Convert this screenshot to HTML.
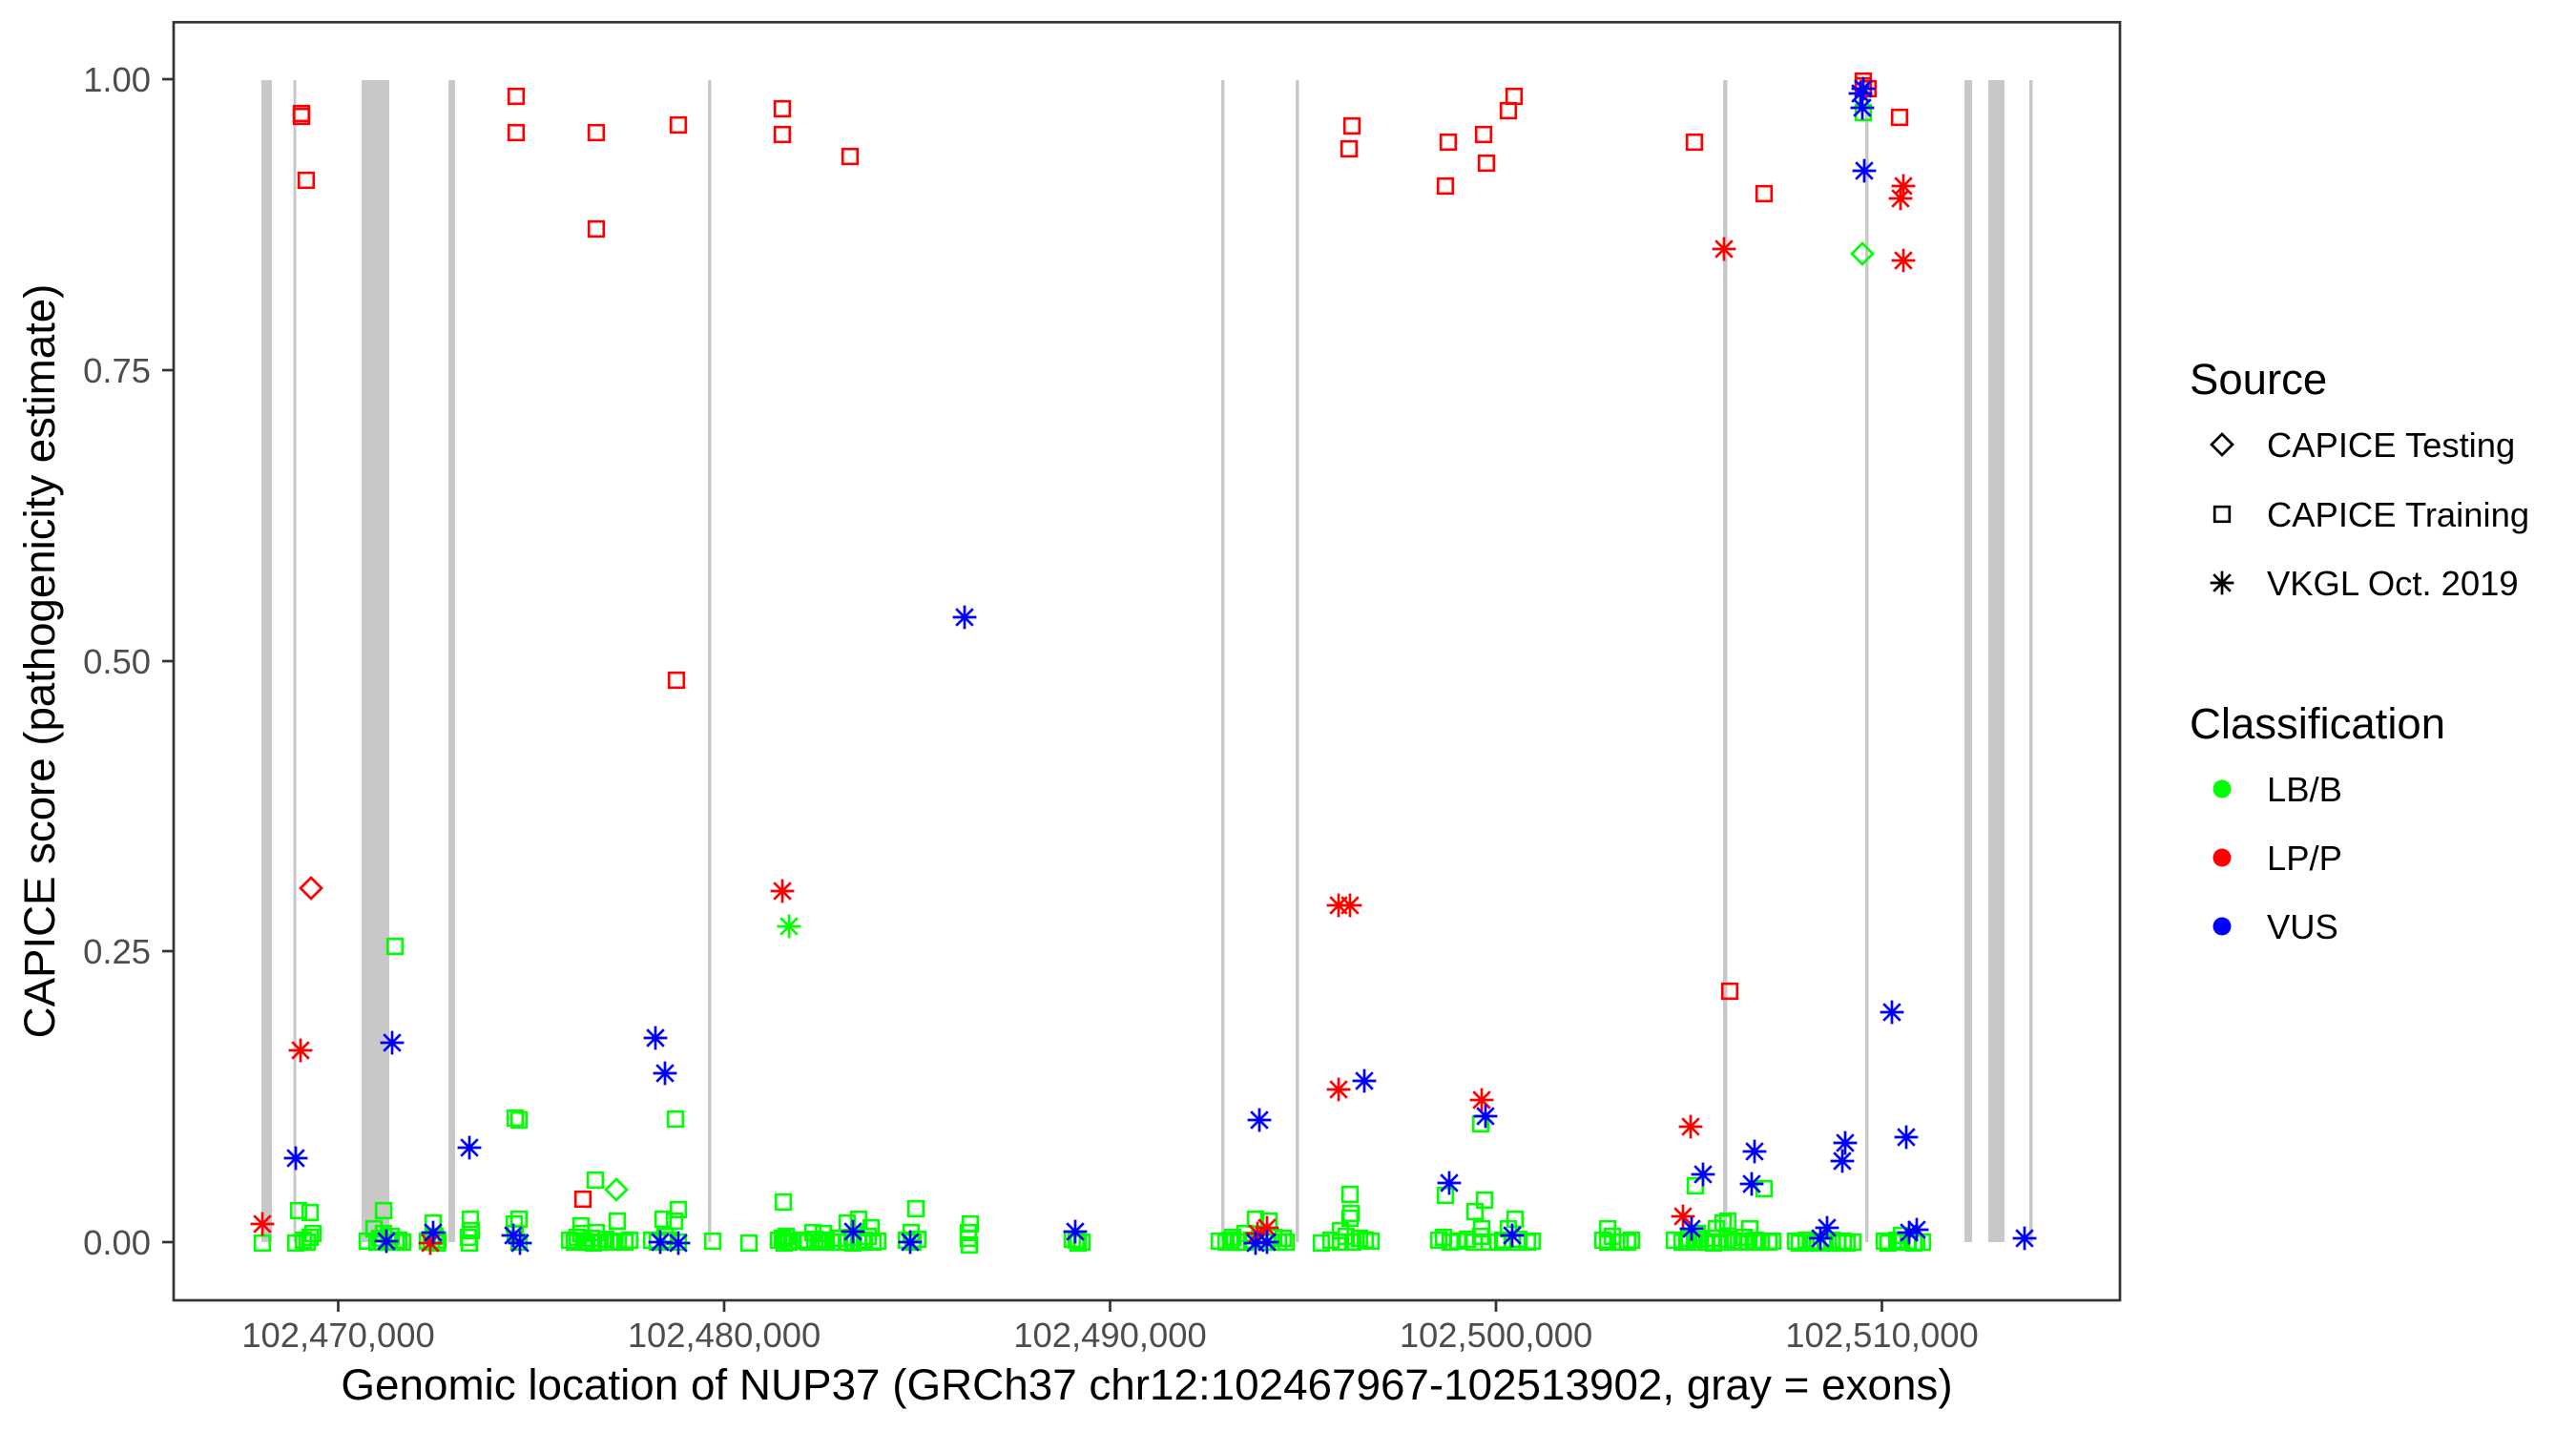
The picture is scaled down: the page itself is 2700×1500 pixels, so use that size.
<!DOCTYPE html>
<html><head><meta charset="utf-8"><style>
html,body{margin:0;padding:0;background:#fff;}
svg{display:block;font-family:"Liberation Sans",Arial,sans-serif;}
</style></head><body>
<svg width="2700" height="1500" viewBox="0 0 2700 1500" xmlns="http://www.w3.org/2000/svg">
<defs>
<path id="s" d="M-7.8,-7.8h15.6v15.6h-15.6z" fill="none"/>
<path id="d" d="M0,-11L11,0L0,11L-11,0z" fill="none"/>
<path id="a" d="M-12.4,0H12.4M0,-12.4V12.4M-8.8,-8.8L8.8,8.8M-8.8,8.8L8.8,-8.8" fill="none"/>
</defs>
<rect width="2700" height="1500" fill="#fff"/>
<!-- exons -->
<g fill="#C8C8C8">
<rect x="274" y="84" width="11" height="1218"/>
<rect x="307.5" y="84" width="3" height="1218"/>
<rect x="379" y="84" width="29" height="1218"/>
<rect x="470" y="84" width="7" height="1218"/>
<rect x="742" y="84" width="3.5" height="1218"/>
<rect x="1280" y="84" width="3.5" height="1218"/>
<rect x="1358" y="84" width="3.5" height="1218"/>
<rect x="1806" y="84" width="4.5" height="1218"/>
<rect x="1955" y="84" width="3.5" height="1218"/>
<rect x="2059" y="84" width="8" height="1218"/>
<rect x="2084" y="84" width="17" height="1218"/>
<rect x="2127" y="84" width="3.5" height="1218"/>
</g>
<!-- green squares -->
<g stroke="#00FF00" stroke-width="2.7">
<use href="#s" x="414" y="992"/><use href="#s" x="540" y="1172"/><use href="#s" x="544" y="1174"/><use href="#s" x="708" y="1173"/><use href="#s" x="624" y="1237"/>
<use href="#s" x="275" y="1303"/><use href="#s" x="313" y="1269"/><use href="#s" x="325" y="1271"/><use href="#s" x="310" y="1303"/><use href="#s" x="322" y="1302"/><use href="#s" x="328" y="1293"/><use href="#s" x="325" y="1297"/><use href="#s" x="318" y="1300"/>
<use href="#s" x="402" y="1269"/><use href="#s" x="392" y="1288"/><use href="#s" x="395" y="1302"/><use href="#s" x="415" y="1302"/><use href="#s" x="422" y="1302"/><use href="#s" x="402" y="1293"/><use href="#s" x="408" y="1302"/>
<use href="#s" x="385" y="1301"/><use href="#s" x="398" y="1298"/><use href="#s" x="410" y="1296"/><use href="#s" x="418" y="1300"/>
<use href="#s" x="454" y="1282"/><use href="#s" x="452" y="1302"/><use href="#s" x="459" y="1300"/><use href="#s" x="456" y="1296"/><use href="#s" x="448" y="1301"/><use href="#s" x="458" y="1303"/>
<use href="#s" x="493" y="1278"/><use href="#s" x="494" y="1290"/><use href="#s" x="492" y="1303"/><use href="#s" x="491" y="1297"/>
<use href="#s" x="539" y="1283"/><use href="#s" x="544" y="1278"/><use href="#s" x="544" y="1302"/><use href="#s" x="540" y="1293"/>
<use href="#s" x="609" y="1285"/><use href="#s" x="625" y="1292"/><use href="#s" x="647" y="1280"/><use href="#s" x="602" y="1302"/><use href="#s" x="615" y="1302"/><use href="#s" x="629" y="1302"/><use href="#s" x="642" y="1302"/><use href="#s" x="655" y="1302"/><use href="#s" x="609" y="1293"/><use href="#s" x="620" y="1298"/>
<use href="#s" x="597" y="1300"/><use href="#s" x="605" y="1297"/><use href="#s" x="612" y="1301"/><use href="#s" x="622" y="1303"/><use href="#s" x="635" y="1299"/><use href="#s" x="648" y="1301"/><use href="#s" x="660" y="1300"/>
<use href="#s" x="695" y="1278"/><use href="#s" x="689" y="1302"/><use href="#s" x="711" y="1268"/><use href="#s" x="707" y="1280"/><use href="#s" x="711" y="1302"/><use href="#s" x="700" y="1300"/><use href="#s" x="683" y="1300"/><use href="#s" x="697" y="1296"/>
<use href="#s" x="747" y="1301"/><use href="#s" x="785" y="1303"/><use href="#s" x="821" y="1260"/><use href="#s" x="820" y="1298"/><use href="#s" x="827" y="1302"/><use href="#s" x="822" y="1303"/><use href="#s" x="816" y="1300"/><use href="#s" x="824" y="1296"/><use href="#s" x="830" y="1301"/>
<use href="#s" x="852" y="1292"/><use href="#s" x="863" y="1293"/><use href="#s" x="847" y="1302"/><use href="#s" x="860" y="1302"/><use href="#s" x="873" y="1302"/><use href="#s" x="888" y="1282"/><use href="#s" x="900" y="1278"/><use href="#s" x="913" y="1287"/><use href="#s" x="887" y="1302"/><use href="#s" x="900" y="1302"/><use href="#s" x="915" y="1302"/><use href="#s" x="880" y="1302"/><use href="#s" x="893" y="1297"/><use href="#s" x="910" y="1296"/>
<use href="#s" x="842" y="1300"/><use href="#s" x="854" y="1299"/><use href="#s" x="866" y="1300"/><use href="#s" x="878" y="1298"/><use href="#s" x="894" y="1303"/><use href="#s" x="906" y="1300"/><use href="#s" x="920" y="1301"/>
<use href="#s" x="960" y="1267"/><use href="#s" x="955" y="1292"/><use href="#s" x="957" y="1302"/><use href="#s" x="950" y="1300"/><use href="#s" x="962" y="1299"/>
<use href="#s" x="1017" y="1283"/><use href="#s" x="1015" y="1292"/><use href="#s" x="1015" y="1298"/><use href="#s" x="1016" y="1305"/>
<use href="#s" x="1130" y="1303"/><use href="#s" x="1128" y="1300"/><use href="#s" x="1124" y="1299"/><use href="#s" x="1134" y="1302"/>
<use href="#s" x="1285" y="1302"/><use href="#s" x="1305" y="1293"/><use href="#s" x="1316" y="1278"/><use href="#s" x="1330" y="1280"/><use href="#s" x="1345" y="1298"/><use href="#s" x="1328" y="1302"/><use href="#s" x="1298" y="1302"/><use href="#s" x="1290" y="1300"/><use href="#s" x="1340" y="1302"/><use href="#s" x="1312" y="1300"/>
<use href="#s" x="1278" y="1301"/><use href="#s" x="1292" y="1297"/><use href="#s" x="1305" y="1302"/><use href="#s" x="1320" y="1299"/><use href="#s" x="1335" y="1297"/><use href="#s" x="1348" y="1302"/>
<use href="#s" x="1415" y="1252"/><use href="#s" x="1416" y="1272"/><use href="#s" x="1415" y="1277"/><use href="#s" x="1405" y="1290"/><use href="#s" x="1385" y="1303"/><use href="#s" x="1431" y="1300"/><use href="#s" x="1405" y="1302"/><use href="#s" x="1418" y="1302"/><use href="#s" x="1411" y="1296"/>
<use href="#s" x="1395" y="1300"/><use href="#s" x="1425" y="1298"/><use href="#s" x="1437" y="1301"/>
<use href="#s" x="1552" y="1178"/><use href="#s" x="1515" y="1253"/><use href="#s" x="1513" y="1297"/><use href="#s" x="1520" y="1302"/><use href="#s" x="1546" y="1270"/><use href="#s" x="1556" y="1258"/><use href="#s" x="1553" y="1288"/><use href="#s" x="1545" y="1302"/><use href="#s" x="1561" y="1302"/><use href="#s" x="1588" y="1278"/><use href="#s" x="1585" y="1302"/><use href="#s" x="1601" y="1302"/><use href="#s" x="1581" y="1288"/><use href="#s" x="1570" y="1302"/><use href="#s" x="1552" y="1296"/>
<use href="#s" x="1508" y="1300"/><use href="#s" x="1528" y="1301"/><use href="#s" x="1538" y="1299"/><use href="#s" x="1575" y="1300"/><use href="#s" x="1592" y="1299"/><use href="#s" x="1606" y="1301"/>
<use href="#s" x="1685" y="1288"/><use href="#s" x="1685" y="1302"/><use href="#s" x="1698" y="1302"/><use href="#s" x="1706" y="1302"/><use href="#s" x="1690" y="1296"/><use href="#s" x="1680" y="1300"/><use href="#s" x="1710" y="1300"/>
<use href="#s" x="1777" y="1243"/><use href="#s" x="1849" y="1246"/><use href="#s" x="1763" y="1302"/><use href="#s" x="1776" y="1302"/><use href="#s" x="1789" y="1302"/><use href="#s" x="1803" y="1302"/><use href="#s" x="1816" y="1302"/><use href="#s" x="1806" y="1282"/><use href="#s" x="1811" y="1280"/><use href="#s" x="1799" y="1288"/><use href="#s" x="1779" y="1293"/><use href="#s" x="1770" y="1298"/><use href="#s" x="1795" y="1298"/>
<use href="#s" x="1755" y="1300"/><use href="#s" x="1768" y="1301"/><use href="#s" x="1782" y="1299"/><use href="#s" x="1796" y="1303"/><use href="#s" x="1810" y="1299"/><use href="#s" x="1822" y="1301"/><use href="#s" x="1828" y="1297"/><use href="#s" x="1840" y="1300"/><use href="#s" x="1858" y="1301"/>
<use href="#s" x="1834" y="1288"/><use href="#s" x="1833" y="1302"/><use href="#s" x="1846" y="1302"/><use href="#s" x="1854" y="1302"/>
<use href="#s" x="1886" y="1303"/><use href="#s" x="1899" y="1303"/><use href="#s" x="1913" y="1303"/><use href="#s" x="1926" y="1303"/><use href="#s" x="1936" y="1303"/>
<use href="#s" x="1882" y="1301"/><use href="#s" x="1893" y="1300"/><use href="#s" x="1905" y="1301"/><use href="#s" x="1920" y="1300"/><use href="#s" x="1932" y="1301"/><use href="#s" x="1942" y="1302"/>
<use href="#s" x="1979" y="1303"/><use href="#s" x="1993" y="1302"/><use href="#s" x="2006" y="1303"/><use href="#s" x="2009" y="1302"/><use href="#s" x="1993" y="1295"/>
<use href="#s" x="1975" y="1301"/><use href="#s" x="1988" y="1300"/><use href="#s" x="2000" y="1301"/><use href="#s" x="2015" y="1302"/>
<use href="#s" x="1953" y="118"/>
<use href="#d" x="646" y="1247"/><use href="#d" x="1952" y="266"/>
<use href="#a" x="827" y="971"/>
</g>
<!-- red -->
<g stroke="#FF0000" stroke-width="2.7">
<use href="#s" x="316" y="122"/><use href="#s" x="316" y="119"/><use href="#s" x="321" y="189"/><use href="#s" x="541" y="101"/><use href="#s" x="541" y="139"/><use href="#s" x="625" y="139"/><use href="#s" x="625" y="240"/><use href="#s" x="711" y="131"/><use href="#s" x="820" y="114"/><use href="#s" x="820" y="141"/><use href="#s" x="891" y="164"/><use href="#s" x="709" y="713"/><use href="#s" x="611" y="1257"/>
<use href="#s" x="1417" y="132"/><use href="#s" x="1414" y="156"/><use href="#s" x="1518" y="149"/><use href="#s" x="1515" y="195"/><use href="#s" x="1555" y="141"/><use href="#s" x="1558" y="171"/><use href="#s" x="1587" y="101"/><use href="#s" x="1581" y="116"/><use href="#s" x="1776" y="149"/><use href="#s" x="1849" y="203"/><use href="#s" x="1813" y="1039"/><use href="#s" x="1953" y="85"/><use href="#s" x="1958" y="93"/><use href="#s" x="1953" y="90"/><use href="#s" x="1991" y="123"/>
<use href="#d" x="326" y="931"/>
<use href="#a" x="315" y="1101"/><use href="#a" x="275" y="1283"/><use href="#a" x="451" y="1303"/><use href="#a" x="820" y="934"/><use href="#a" x="1403" y="949"/><use href="#a" x="1415" y="949"/><use href="#a" x="1403" y="1142"/><use href="#a" x="1553" y="1153"/><use href="#a" x="1318" y="1293"/><use href="#a" x="1328" y="1287"/><use href="#a" x="1807" y="261"/><use href="#a" x="1995" y="195"/><use href="#a" x="1992" y="208"/><use href="#a" x="1995" y="273"/><use href="#a" x="1772" y="1181"/><use href="#a" x="1764" y="1275"/>
</g>
<!-- blue -->
<g stroke="#0000FF" stroke-width="2.7">
<use href="#a" x="411" y="1093"/><use href="#a" x="310" y="1214"/><use href="#a" x="492" y="1203"/><use href="#a" x="687" y="1088"/><use href="#a" x="697" y="1125"/><use href="#a" x="405" y="1301"/><use href="#a" x="454" y="1292"/><use href="#a" x="538" y="1295"/><use href="#a" x="545" y="1303"/><use href="#a" x="692" y="1302"/><use href="#a" x="711" y="1303"/>
<use href="#a" x="1011" y="647"/><use href="#a" x="894" y="1291"/><use href="#a" x="954" y="1302"/><use href="#a" x="1127" y="1291"/>
<use href="#a" x="1320" y="1174"/><use href="#a" x="1430" y="1133"/><use href="#a" x="1557" y="1170"/><use href="#a" x="1519" y="1240"/><use href="#a" x="1316" y="1303"/><use href="#a" x="1328" y="1302"/><use href="#a" x="1585" y="1295"/>
<use href="#a" x="1983" y="1061"/><use href="#a" x="1785" y="1231"/><use href="#a" x="1839" y="1207"/><use href="#a" x="1836" y="1241"/><use href="#a" x="1934" y="1198"/><use href="#a" x="1931" y="1217"/><use href="#a" x="1998" y="1192"/><use href="#a" x="1773" y="1288"/><use href="#a" x="1908" y="1298"/><use href="#a" x="1915" y="1287"/><use href="#a" x="2001" y="1292"/><use href="#a" x="2009" y="1289"/><use href="#a" x="2122" y="1298"/>
<use href="#a" x="1953" y="93"/><use href="#a" x="1952" y="113"/><use href="#a" x="1954" y="179"/><use href="#a" x="1950" y="98"/>
</g>
<!-- panel border -->
<rect x="182" y="23.3" width="2040" height="1339.7" fill="none" stroke="#333333" stroke-width="2.7"/>
<!-- ticks -->
<g stroke="#333333" stroke-width="2.7">
<line x1="170" x2="182" y1="83" y2="83"/><line x1="170" x2="182" y1="388" y2="388"/><line x1="170" x2="182" y1="693" y2="693"/><line x1="170" x2="182" y1="997" y2="997"/><line x1="170" x2="182" y1="1302" y2="1302"/>
<line y1="1363" y2="1375" x1="354.5" x2="354.5"/><line y1="1363" y2="1375" x1="759" x2="759"/><line y1="1363" y2="1375" x1="1163.5" x2="1163.5"/><line y1="1363" y2="1375" x1="1568" x2="1568"/><line y1="1363" y2="1375" x1="1972.5" x2="1972.5"/>
</g>
<g font-size="36.4" fill="#4D4D4D">
<text x="158" y="96" text-anchor="end">1.00</text>
<text x="158" y="401" text-anchor="end">0.75</text>
<text x="158" y="706" text-anchor="end">0.50</text>
<text x="158" y="1010" text-anchor="end">0.25</text>
<text x="158" y="1315" text-anchor="end">0.00</text>
<text x="354.5" y="1412" text-anchor="middle">102,470,000</text>
<text x="759" y="1412" text-anchor="middle">102,480,000</text>
<text x="1163.5" y="1412" text-anchor="middle">102,490,000</text>
<text x="1568" y="1412" text-anchor="middle">102,500,000</text>
<text x="1972.5" y="1412" text-anchor="middle">102,510,000</text>
</g>
<g fill="#000">
<text x="1202" y="1467" text-anchor="middle" font-size="45.8">Genomic location of NUP37 (GRCh37 chr12:102467967-102513902, gray = exons)</text>
<text transform="translate(57,693) rotate(-90)" text-anchor="middle" font-size="45.6">CAPICE score (pathogenicity estimate)</text>
<text x="2295" y="413" font-size="45.5">Source</text>
<text x="2295" y="774" font-size="45.5">Classification</text>
</g>
<g stroke="#000" stroke-width="2.7">
<use href="#d" x="2329" y="466"/>
<use href="#s" x="2329" y="539"/>
<use href="#a" x="2329" y="611"/>
</g>
<circle cx="2329" cy="827" r="9.5" fill="#00FF00"/>
<circle cx="2329" cy="899" r="9.5" fill="#FF0000"/>
<circle cx="2329" cy="971" r="9.5" fill="#0000FF"/>
<g font-size="36.4" fill="#000">
<text x="2376" y="479">CAPICE Testing</text>
<text x="2376" y="552">CAPICE Training</text>
<text x="2376" y="624">VKGL Oct. 2019</text>
<text x="2376" y="840">LB/B</text>
<text x="2376" y="912">LP/P</text>
<text x="2376" y="984">VUS</text>
</g>
</svg>
</body></html>
